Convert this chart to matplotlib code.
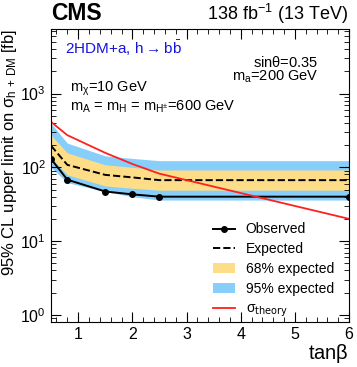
import matplotlib
matplotlib.use("Agg")
import matplotlib.pyplot as plt
from matplotlib.ticker import LogLocator, MultipleLocator, NullFormatter

plt.rcParams["font.family"] = ["Liberation Sans", "DejaVu Sans"]
plt.rcParams["mathtext.default"] = "regular"

# ───── DATA ─────
tanb = [0.5, 0.8, 1.5, 2.0, 2.5, 6.0]
observed = [130, 68, 47, 43, 40, 40]
expected = [196, 108, 79, 73, 67, 67]
band68_lo = [134, 79, 56, 52, 49, 49]
band68_hi = [273, 157, 108, 100, 92, 92]
band95_lo = [100, 62, 47, 40, 36, 36]
band95_hi = [395, 213, 143, 132, 123, 123]

theory_tanb = [0.5, 0.8, 1.5, 2.0, 2.5, 6.0]
theory_xsec = [412, 273, 157, 111, 82, 20]

fig = plt.figure(figsize=(3.57, 3.67), dpi=100)
ax = fig.add_axes([0.143, 0.1226, 0.835, 0.7984])

ax.fill_between(tanb, band95_lo, band95_hi, color="#87cefa", lw=0, label="95% expected")
ax.fill_between(tanb, band68_lo, band68_hi, color="#fddd87", lw=0, label="68% expected")
ax.plot(tanb, expected, "k--", lw=1.4, label="Expected")
ax.plot(tanb, observed, "k-", marker="o", ms=4, lw=1.4, label="Observed")
ax.plot(theory_tanb, theory_xsec, color="#ff2020", lw=1.3, label=r"$\sigma_{\mathrm{theory}}$")

ax.set_yscale("log")
ax.set_xlim(0.5, 6)
ax.set_ylim(0.8, 7500)
ax.xaxis.set_major_locator(MultipleLocator(1))
ax.xaxis.set_minor_locator(MultipleLocator(0.2))
ax.yaxis.set_major_locator(LogLocator(base=10, numticks=10))
ax.yaxis.set_minor_locator(LogLocator(base=10, subs=range(2, 10), numticks=20))
ax.yaxis.set_minor_formatter(NullFormatter())
ax.tick_params(which="both", direction="in", top=True, right=True, labelsize=11.5)
ax.tick_params(which="major", length=7)
ax.tick_params(which="minor", length=3.5)

ax.set_xlabel(r"tan$\beta$", fontsize=14.5, loc="right", labelpad=0)
ax.set_ylabel(r"95% CL upper limit on $\sigma_{h\,+\,DM}$ [fb]", fontsize=12, loc="top", labelpad=1)

# legend order as in the reference
h, l = ax.get_legend_handles_labels()
order = [3, 2, 1, 0, 4]
ax.legend([h[i] for i in order], [l[i] for i in order], loc="upper left",
          bbox_to_anchor=(0.544, 0.34), frameon=False, fontsize=10,
          borderaxespad=0, borderpad=0, handlelength=1.6, handletextpad=0.75,
          labelspacing=0.42)

# ───── LABELS ─────
fig.text(0.143, 0.9455, "CMS", fontsize=16.5, fontweight="bold", ha="left", va="baseline")
fig.text(0.975, 0.9455, r"138 fb$^{-1}$ (13 TeV)", fontsize=13, ha="right", va="baseline")
ax.text(0.047, 0.935, r"2HDM+a, h$\rightarrow$b$\bar{b}$", color="#1515e0", fontsize=11,
        transform=ax.transAxes, va="center")
ax.text(0.896, 0.887, r"sin$\theta$=0.35", fontsize=10.5, transform=ax.transAxes, ha="right", va="center")
ax.text(0.896, 0.836, r"m$_a$=200 GeV", fontsize=10.5, transform=ax.transAxes, ha="right", va="center")
ax.text(0.064, 0.795, r"m$_\chi$=10 GeV", fontsize=10.5, transform=ax.transAxes, va="center")
ax.text(0.064, 0.734, r"m$_A$ = m$_H$ = m$_{H^{\pm}}$=600 GeV", fontsize=10.5, transform=ax.transAxes, va="center")

fig.savefig("out.png", dpi=100)
